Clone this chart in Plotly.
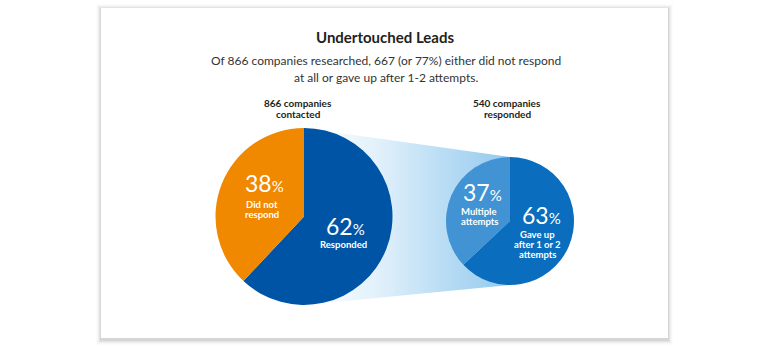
import plotly.graph_objects as go

# ---- data ----
title = "Undertouched Leads"
subtitle_lines = ["Of 866 companies researched, 667 (or 77%) either did not respond",
                  "at all or gave up after 1-2 attempts."]
left_header = ["866 companies", "contacted"]
right_header = ["540 companies", "responded"]
left_labels = ["Responded", "Did not respond"]
left_values = [62, 38]
right_labels = ["Gave up after 1 or 2 attempts", "Multiple attempts"]
right_values = [63, 37]
left_label_lines = [["Responded"], ["Did not", "respond"]]
right_label_lines = [["Gave up", "after 1 or 2", "attempts"], ["Multiple", "attempts"]]

# ---- styles / layout ----
W, H = 770, 359
FONT = "Lato"
c_orange = "#f08800"
c_blue = "#0054a6"
c_dblue = "#0a6dbd"
c_lblue = "#4193d4"

L = dict(cx=304, cy=216.5, r=88.5)
R = dict(cx=510, cy=221, r=64)

def domain(p):
    return dict(x=[(p["cx"] - p["r"]) / W, (p["cx"] + p["r"]) / W],
                y=[1 - (p["cy"] + p["r"]) / H, 1 - (p["cy"] - p["r"]) / H])

fig = go.Figure()

# gradient connector between pies
wx = [L["cx"], R["cx"], R["cx"], L["cx"], L["cx"]]
wy = [L["cy"] - L["r"], R["cy"] - R["r"], R["cy"] + R["r"], L["cy"] + L["r"], L["cy"] - L["r"]]
fig.add_trace(go.Scatter(x=wx, y=wy, mode="lines", line=dict(width=0), fill="toself",
                         fillgradient=dict(type="horizontal",
                                           colorscale=[[0, "#ffffff"], [0.35, "#e2f1fb"], [1, "#92c9ee"]]),
                         hoverinfo="skip", showlegend=False))

fig.add_trace(go.Pie(values=left_values, labels=left_labels, domain=domain(L), sort=False,
                     direction="clockwise", rotation=0, textinfo="none", hoverinfo="label+percent",
                     marker=dict(colors=[c_blue, c_orange], line=dict(width=0)), showlegend=False))
fig.add_trace(go.Pie(values=right_values, labels=right_labels, domain=domain(R), sort=False,
                     direction="clockwise", rotation=0, textinfo="none", hoverinfo="label+percent",
                     marker=dict(colors=[c_dblue, c_lblue], line=dict(width=0)), showlegend=False))

# card with soft shadow
shapes = []
x0, y0, x1, y1 = 101, 8, 668, 338
for i, a in enumerate([0.012, 0.02, 0.03, 0.045, 0.06]):
    k = 5 - i
    shapes.append(dict(type="rect", xref="x", yref="y", x0=x0 - k, x1=x1 + k, y0=y0 - k + 1, y1=y1 + k + 2,
                       fillcolor=f"rgba(0,0,0,{a})", line=dict(width=0), layer="below"))
shapes.append(dict(type="rect", xref="x", yref="y", x0=x0, x1=x1, y0=y0, y1=y1,
                   fillcolor="white", line=dict(width=0), layer="below"))

ann = []
def text(x, y, s, size, color="#231f20", bold=False):
    ann.append(dict(x=x, y=y, xref="x", yref="y", text=(f"<b>{s}</b>" if bold else s), showarrow=False,
                    font=dict(family=FONT, size=size, color=color), xanchor="center", yanchor="middle"))

text(385, 37, title, 15, "#231f20", bold=True)
text(386, 60, subtitle_lines[0], 12, "#333333")
text(386, 77, subtitle_lines[1], 12, "#333333")
text(298, 103, left_header[0], 10, bold=True)
text(298, 114, left_header[1], 10, bold=True)
text(507, 103, right_header[0], 10, bold=True)
text(507, 114, right_header[1], 10, bold=True)

def pct(v):
    return f"{v}<span style='font-size:15px'>%</span>"

# left pie labels
text(345, 226, pct(left_values[0]), 23, "white")
for i, s in enumerate(left_label_lines[0]):
    text(343, 244 + i * 10, s, 9.5, "white", bold=True)
text(264, 183, pct(left_values[1]), 23, "white")
for i, s in enumerate(left_label_lines[1]):
    text(262, 204 + i * 10, s, 9.5, "white", bold=True)
# right pie labels
text(541, 215, pct(right_values[0]), 23, "white")
for i, s in enumerate(right_label_lines[0]):
    text(537, 234 + i * 10.3, s, 9.5, "white", bold=True)
text(482, 192, pct(right_values[1]), 23, "white")
for i, s in enumerate(right_label_lines[1]):
    text(479, 211 + i * 10, s, 9.5, "white", bold=True)

fig.update_layout(
    width=W, height=H, margin=dict(l=0, r=0, t=0, b=0),
    paper_bgcolor="white", plot_bgcolor="white",
    xaxis=dict(range=[0, W], visible=False, fixedrange=True),
    yaxis=dict(range=[H, 0], visible=False, fixedrange=True),
    shapes=shapes, annotations=ann, showlegend=False,
)
fig.write_html("out.html", config={"displayModeBar": False},
               post_script="document.body.style.margin='0px';document.body.style.overflow='hidden';")
